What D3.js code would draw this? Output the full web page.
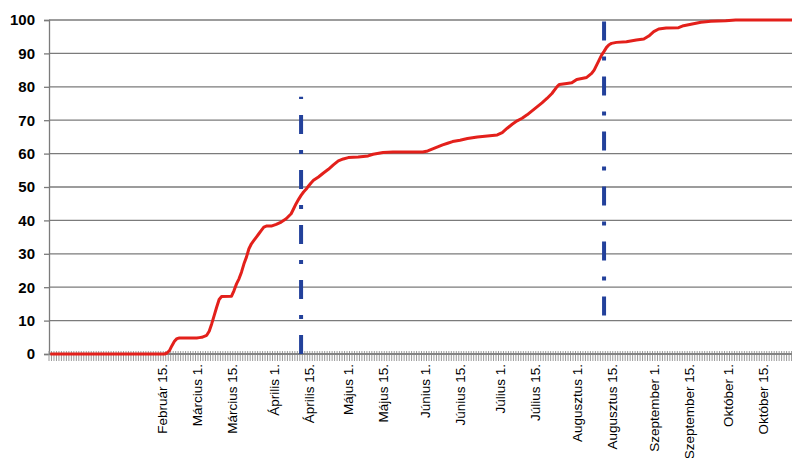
<!DOCTYPE html>
<html>
<head>
<meta charset="utf-8">
<script src="https://cdn.jsdelivr.net/npm/d3@7"></script>
<style>
  html, body { margin: 0; padding: 0; background: #fff; }
  svg { display: block; font-family: "Liberation Sans", Arial, sans-serif; }
</style>
</head>
<body>
<svg id="chart" width="792" height="458"></svg>
<script>
// Cumulative share (%) by date
const dates = [
  "01-01","02-16","02-17","02-18","02-19","02-20","02-21","02-22",
  "03-01","03-02","03-03","03-04","03-05","03-06","03-07","03-08","03-09","03-10","03-11",
  "03-15","03-16","03-17","03-18","03-19","03-20","03-21","03-22","03-23","03-24","03-25",
  "03-26","03-27","03-28","03-29","03-31","04-02","04-04","04-06","04-08","04-09","04-10",
  "04-11","04-12","04-13","04-14","04-15","04-16","04-17","04-19","04-21","04-23","04-25",
  "04-27","04-29","05-01","05-05","05-09","05-11","05-15","05-19","05-31","06-02","06-04",
  "06-06","06-08","06-10","06-12","06-15","06-18","06-22","06-26","06-30","07-02","07-04",
  "07-06","07-08","07-10","07-12","07-14","07-16","07-18","07-20","07-22","07-24","07-25",
  "07-28","07-30","08-01","08-03","08-05","08-07","08-08","08-09","08-10","08-11","08-12",
  "08-13","08-14","08-15","08-17","08-21","08-25","08-28","08-30","09-01","09-03","09-06",
  "09-11","09-13","09-16","09-20","09-24","09-30","10-04","10-31"
];
const share = [
  0, 0, 0.3, 1, 2.5, 3.8, 4.6, 4.8,
  4.8, 4.9, 5.0, 5.3, 5.6, 6.8, 9, 11.5, 14, 16.3, 17.2,
  17.3, 19, 21, 22.5, 24.5, 27, 29, 31.5, 33, 34, 35,
  36, 37, 38, 38.3, 38.3, 38.8, 39.5, 40.5, 42, 43.5, 45,
  46.3, 47.5, 48.5, 49.3, 50.3, 51.2, 52, 53, 54.2, 55.3, 56.6,
  57.8, 58.4, 58.8, 59, 59.3, 59.8, 60.3, 60.5, 60.5, 60.8, 61.4,
  62, 62.6, 63.1, 63.6, 64, 64.5, 65, 65.3, 65.6, 66.3, 67.6,
  68.8, 69.8, 70.6, 71.6, 72.8, 74, 75.2, 76.5, 78, 80, 80.7,
  81, 81.2, 82.2, 82.5, 82.8, 84, 85, 86.5, 88, 89.5, 90.6,
  91.8, 92.6, 93, 93.3, 93.5, 94, 94.3, 95.2, 96.5, 97.3, 97.6,
  97.7, 98.3, 98.7, 99.3, 99.6, 99.8, 100, 100
];

// Vertical dash-dot markers: date, from value, to value
const markerDates = ["04-12", "08-12"];
const markerFrom = [0, 11.5];
const markerTo = [77, 100];

// Axis labels
const tickDates = ["02-15","03-01","03-15","04-01","04-15","05-01","05-15","06-01","06-15",
                   "07-01","07-15","08-01","08-15","09-01","09-15","10-01","10-15"];
const tickLabels = ["Február 15.","Március 1.","Március 15.","Április 1.","Április 15.",
                    "Május 1.","Május 15.","Június 1.","Június 15.","Július 1.","Július 15.",
                    "Augusztus 1.","Augusztus 15.","Szeptember 1.","Szeptember 15.",
                    "Október 1.","Október 15."];
const yTicks = [0, 10, 20, 30, 40, 50, 60, 70, 80, 90, 100];

const YEAR = 2021;
const parse = s => d3.timeParse("%Y-%m-%d")(YEAR + "-" + s);

const svg = d3.select("#chart");
const plotLeft = 49, plotTop = 20, plotBottom = 354;
const pxPerDay = 2.4835;

const start = new Date(YEAR - 1, 11, 31, 12);
const end = new Date(YEAR, 10, 1);
const nDays = (end - start) / 864e5;

const x = d3.scaleTime().domain([start, end]).range([plotLeft, plotLeft + nDays * pxPerDay]);
const y = d3.scaleLinear().domain([0, 100]).range([plotBottom, plotTop]);

const gridColor = "#7b7b7b";

// Horizontal gridlines
svg.append("g")
  .selectAll("line")
  .data(yTicks)
  .join("line")
  .attr("x1", plotLeft).attr("x2", 792)
  .attr("y1", d => y(d)).attr("y2", d => y(d))
  .attr("stroke", gridColor).attr("stroke-width", 1.3);

// Y axis
const yAxis = d3.axisLeft(y).tickValues(yTicks).tickSize(5).tickPadding(9);
const gy = svg.append("g").attr("transform", `translate(${plotLeft},0)`).call(yAxis);
gy.select(".domain").attr("stroke", gridColor).attr("stroke-width", 1.3);
gy.selectAll(".tick line").attr("stroke", gridColor).attr("stroke-width", 1.3);
gy.selectAll(".tick text")
  .attr("fill", "#000")
  .style("font-size", "15px")
  .style("font-weight", "bold")
  .style("font-family", "'Liberation Sans', Arial, sans-serif");

// Daily tick marks along the category axis
const days = d3.timeDay.range(new Date(YEAR, 0, 1), end);
svg.append("g")
  .selectAll("line")
  .data(days)
  .join("line")
  .attr("x1", d => x(d) - pxPerDay / 2).attr("x2", d => x(d) - pxPerDay / 2)
  .attr("y1", plotBottom - 3).attr("y2", plotBottom + 7)
  .attr("stroke", "#9a9a9a").attr("stroke-width", 1);

svg.append("line")
  .attr("x1", plotLeft).attr("x2", 792)
  .attr("y1", plotBottom).attr("y2", plotBottom)
  .attr("stroke", gridColor).attr("stroke-width", 1.3);

// X axis labels
const xAxis = d3.axisBottom(x)
  .tickValues(tickDates.map(parse))
  .tickSize(0)
  .tickFormat((d, i) => tickLabels[i]);
const gx = svg.append("g").attr("transform", `translate(0,${plotBottom})`).call(xAxis);
gx.select(".domain").remove();
gx.selectAll(".tick text")
  .attr("fill", "#000")
  .style("font-size", "13.5px")
  .style("font-family", "'Liberation Sans', Arial, sans-serif")
  .attr("text-anchor", "end")
  .attr("dy", "0.35em")
  .attr("transform", "translate(0,10) rotate(-90)")
  .attr("x", 0).attr("y", 0);

// Cumulative line
const series = dates.map((d, i) => ({ date: parse(d), value: share[i] }));
svg.append("path")
  .datum(series)
  .attr("fill", "none")
  .attr("stroke", "#e3201b")
  .attr("stroke-width", 3)
  .attr("stroke-linejoin", "round")
  .attr("d", d3.line().x(d => x(d.date)).y(d => y(d.value)));

// Dash-dot markers
svg.append("g")
  .selectAll("line")
  .data(markerDates.map((d, i) => ({ date: parse(d), from: markerFrom[i], to: markerTo[i] })))
  .join("line")
  .attr("x1", d => x(d.date)).attr("x2", d => x(d.date))
  .attr("y1", d => y(d.from)).attr("y2", d => y(d.to))
  .attr("stroke", "#23419b")
  .attr("stroke-width", 4)
  .attr("stroke-dasharray", "19,16,4,16");
</script>
</body>
</html>
